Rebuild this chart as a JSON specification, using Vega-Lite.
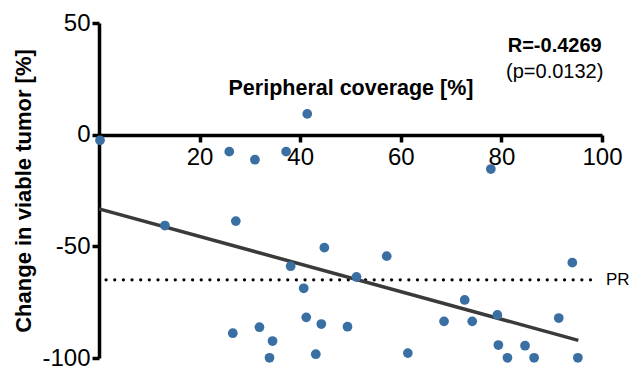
{
  "$schema": "https://vega.github.io/schema/vega-lite/v6.json",
  "width": 503,
  "height": 335,
  "autosize": {"type": "none"},
  "padding": {"left": 99, "top": 23, "right": 30, "bottom": 11},
  "background": "white",
  "config": {
    "view": {"stroke": null},
    "font": "Liberation Sans",
    "axis": {"grid": false, "domainColor": "black", "tickColor": "black", "labelColor": "black", "titleColor": "black", "labelFont": "Liberation Sans", "titleFont": "Liberation Sans"}
  },
  "datasets": {
    "pts": [
      {"coverage": 0.2, "change": -2.5},
      {"coverage": 41.4, "change": 9.3},
      {"coverage": 25.9, "change": -7.6},
      {"coverage": 31.0, "change": -11.2},
      {"coverage": 37.2, "change": -7.6},
      {"coverage": 77.9, "change": -15.4},
      {"coverage": 13.1, "change": -40.7},
      {"coverage": 27.2, "change": -38.7},
      {"coverage": 38.1, "change": -58.9},
      {"coverage": 40.7, "change": -68.8},
      {"coverage": 41.2, "change": -81.8},
      {"coverage": 26.6, "change": -88.9},
      {"coverage": 31.9, "change": -86.2},
      {"coverage": 34.5, "change": -92.4},
      {"coverage": 33.9, "change": -99.9},
      {"coverage": 43.1, "change": -98.3},
      {"coverage": 44.8, "change": -50.6},
      {"coverage": 44.2, "change": -84.8},
      {"coverage": 49.4, "change": -86.0},
      {"coverage": 51.2, "change": -63.7},
      {"coverage": 57.2, "change": -54.4},
      {"coverage": 61.4, "change": -97.8},
      {"coverage": 68.6, "change": -83.6},
      {"coverage": 72.7, "change": -74.0},
      {"coverage": 74.2, "change": -83.6},
      {"coverage": 79.2, "change": -80.7},
      {"coverage": 79.4, "change": -94.2},
      {"coverage": 81.2, "change": -99.9},
      {"coverage": 84.7, "change": -94.5},
      {"coverage": 86.5, "change": -99.9},
      {"coverage": 91.4, "change": -82.1},
      {"coverage": 94.1, "change": -57.3},
      {"coverage": 95.2, "change": -99.9}
    ],
    "fit": [
      {"coverage": 0, "change": -33.2},
      {"coverage": 95.3, "change": -92.1}
    ],
    "pr": [
      {"start": 1.4, "end": 99, "level": -65, "label": "PR"}
    ],
    "stats": [
      {"coverage": 90.6, "change": 39.5, "label": "R=-0.4269"},
      {"coverage": 90.6, "change": 28, "label": "(p=0.0132)"}
    ]
  },
  "layer": [
    {
      "data": {"name": "pr"},
      "mark": {"type": "rule", "color": "black", "strokeWidth": 3.2, "strokeDash": [0.1, 8.55], "strokeCap": "round"},
      "encoding": {
        "x": {"field": "start", "type": "quantitative", "scale": {"domain": [0, 100], "nice": false}},
        "x2": {"field": "end"},
        "y": {"field": "level", "type": "quantitative", "scale": {"domain": [-100, 50], "nice": false}}
      }
    },
    {
      "data": {"name": "pr"},
      "mark": {"type": "text", "align": "left", "baseline": "middle", "fontSize": 17, "font": "Liberation Sans", "color": "black", "dx": 9},
      "encoding": {
        "x": {"field": "end", "type": "quantitative"},
        "y": {"field": "level", "type": "quantitative"},
        "text": {"field": "label"}
      }
    },
    {
      "data": {"name": "fit"},
      "mark": {"type": "line", "color": "#3a3a3a", "strokeWidth": 3.5},
      "encoding": {
        "x": {"field": "coverage", "type": "quantitative"},
        "y": {"field": "change", "type": "quantitative"}
      }
    },
    {
      "data": {"name": "pts"},
      "mark": {"type": "circle", "size": 95, "color": "#3a6fa3", "opacity": 1},
      "encoding": {
        "x": {
          "field": "coverage", "type": "quantitative",
          "scale": {"domain": [0, 100], "nice": false},
          "axis": {
            "orient": "bottom", "offset": -223, "values": [0, 20, 40, 60, 80, 100],
            "labelExpr": "datum.value == 0 ? '' : datum.label",
            "labelFlush": false, "labelOverlap": false,
            "domainWidth": 3.5, "tickWidth": 3.5, "tickSize": 7, "labelFontSize": 24, "labelPadding": 3,
            "title": "Peripheral coverage [%]", "titleFontSize": 21.5, "titleFontWeight": "bold",
            "titleY": -41, "titleBaseline": "alphabetic"
          }
        },
        "y": {
          "field": "change", "type": "quantitative",
          "scale": {"domain": [-100, 50], "nice": false},
          "axis": {
            "values": [-100, -50, 0, 50],
            "labelExpr": "'' + datum.value",
            "labelOverlap": false,
            "domainWidth": 3.5, "tickWidth": 3.5, "tickSize": 7, "labelFontSize": 24, "labelPadding": 2,
            "title": "Change in viable tumor [%]", "titleFontSize": 22, "titleFontWeight": "bold",
            "titleLimit": 400,
            "titleX": -76, "titleBaseline": "middle"
          }
        }
      }
    },
    {
      "data": {"name": "stats"},
      "transform": [{"filter": "datum.label == 'R=-0.4269'"}],
      "mark": {"type": "text", "align": "center", "baseline": "middle", "fontSize": 20, "fontWeight": "bold", "font": "Liberation Sans", "color": "black"},
      "encoding": {
        "x": {"field": "coverage", "type": "quantitative"},
        "y": {"field": "change", "type": "quantitative"},
        "text": {"field": "label"}
      }
    },
    {
      "data": {"name": "stats"},
      "transform": [{"filter": "datum.label != 'R=-0.4269'"}],
      "mark": {"type": "text", "align": "center", "baseline": "middle", "fontSize": 20, "font": "Liberation Sans", "color": "black"},
      "encoding": {
        "x": {"field": "coverage", "type": "quantitative"},
        "y": {"field": "change", "type": "quantitative"},
        "text": {"field": "label"}
      }
    }
  ]
}
